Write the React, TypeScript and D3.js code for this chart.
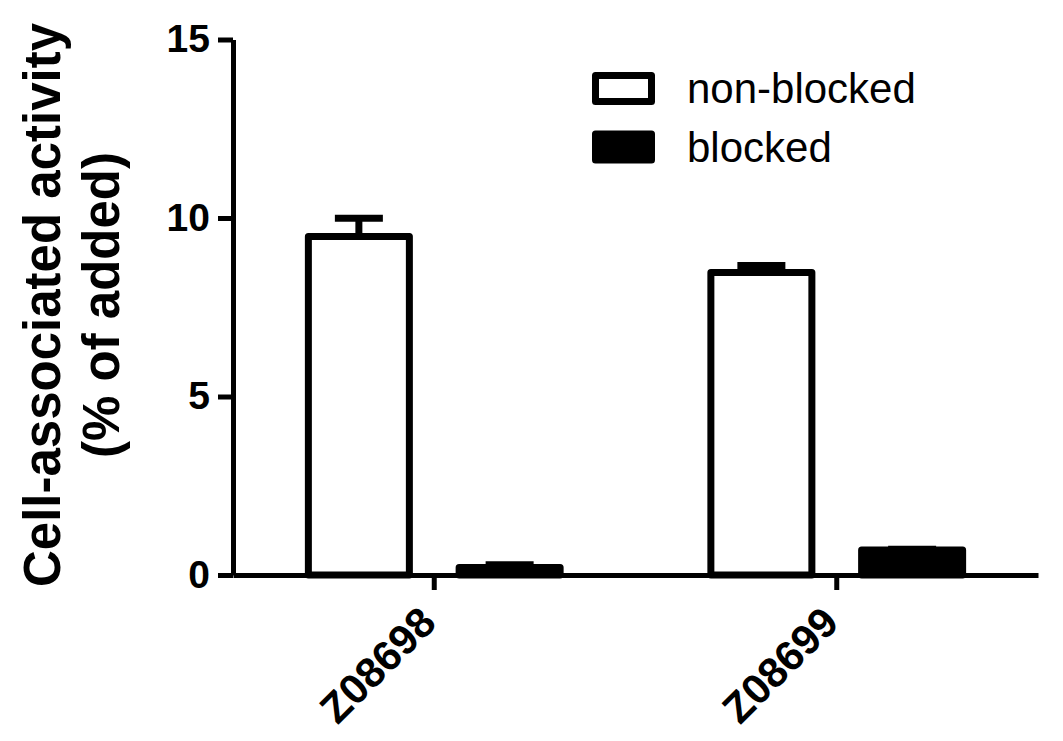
import React, { useEffect, useRef } from 'react';
import * as d3 from 'd3';

const groups = ['Z08698', 'Z08699'];
const seriesNames = ['non-blocked', 'blocked'];
const nonBlockedMean = [9.48, 8.47];
const nonBlockedErr = [0.51, 0.2];
const blockedMean = [0.21, 0.7];
const blockedErr = [0.08, 0.02];
const yTicks = [0, 5, 10, 15];

const W = 1063;
const H = 741;

const App = () => {
  const ref = useRef<SVGSVGElement | null>(null);

  useEffect(() => {
    const svg = d3.select(ref.current);
    svg.selectAll('*').remove();

    const left = 233;
    const right = 1038;
    const bottom = 575;
    const top = 39.5;

    const y = d3.scaleLinear().domain([0, 15]).range([bottom, top]);
    const x0 = d3.scaleBand().domain(groups).range([left, right]).padding(0);
    const x1 = d3.scaleBand().domain(seriesNames)
      .range([0, x0.bandwidth()])
      .paddingInner(0.33)
      .paddingOuter(0.5);

    const rows = groups.map((g, i) => ({
      group: g,
      values: [
        { key: 'non-blocked', mean: nonBlockedMean[i], err: nonBlockedErr[i] },
        { key: 'blocked', mean: blockedMean[i], err: blockedErr[i] },
      ],
    }));

    const font = '"Liberation Sans", Arial, sans-serif';

    // bars + error bars
    const g = svg.selectAll('.grp')
      .data(rows)
      .enter()
      .append('g')
      .attr('class', 'grp')
      .attr('transform', d => `translate(${x0(d.group)},0)`);

    const item = g.selectAll('.item')
      .data(d => d.values)
      .enter()
      .append('g')
      .attr('class', 'item');

    item.append('line')
      .attr('x1', d => x1(d.key)! + x1.bandwidth() / 2)
      .attr('x2', d => x1(d.key)! + x1.bandwidth() / 2)
      .attr('y1', d => y(d.mean))
      .attr('y2', d => y(d.mean + d.err))
      .attr('stroke', '#000')
      .attr('stroke-width', 7);

    item.append('line')
      .attr('x1', d => x1(d.key)! + x1.bandwidth() / 2 - 24)
      .attr('x2', d => x1(d.key)! + x1.bandwidth() / 2 + 24)
      .attr('y1', d => y(d.mean + d.err))
      .attr('y2', d => y(d.mean + d.err))
      .attr('stroke', '#000')
      .attr('stroke-width', 7);

    item.append('rect')
      .attr('x', d => x1(d.key)!)
      .attr('y', d => y(d.mean))
      .attr('width', x1.bandwidth())
      .attr('height', d => bottom - y(d.mean))
      .attr('fill', d => (d.key === 'blocked' ? '#000' : '#fff'))
      .attr('stroke', '#000')
      .attr('stroke-width', 7)
      .attr('stroke-linejoin', 'round');

    // y axis
    const yAxis = svg.append('g')
      .attr('transform', `translate(${left},0)`)
      .call(d3.axisLeft(y).tickValues(yTicks).tickSize(15).tickPadding(8).tickSizeOuter(0));
    yAxis.select('.domain').attr('stroke-width', 5).attr('stroke', '#000');
    yAxis.selectAll('.tick line').attr('stroke-width', 5).attr('stroke', '#000');
    yAxis.selectAll('.tick text')
      .attr('font-family', font)
      .attr('font-weight', 'bold')
      .attr('font-size', 39)
      .attr('fill', '#000');

    // x axis
    const xAxis = svg.append('g')
      .attr('transform', `translate(0,${bottom})`)
      .call(d3.axisBottom(x0).tickSize(15).tickSizeOuter(0));
    xAxis.select('.domain').attr('stroke-width', 5).attr('stroke', '#000');
    xAxis.selectAll('.tick line').attr('stroke-width', 5).attr('stroke', '#000');
    xAxis.selectAll('.tick text')
      .attr('font-family', font)
      .attr('font-weight', 'bold')
      .attr('font-size', 42)
      .attr('fill', '#000')
      .attr('y', 0)
      .attr('dy', 0)
      .attr('text-anchor', 'end')
      .attr('transform', 'translate(4,50) rotate(-45)');

    // y title
    const title = svg.append('text')
      .attr('transform', `translate(0,305) rotate(-90)`)
      .attr('text-anchor', 'middle')
      .attr('font-family', font)
      .attr('font-weight', 'bold')
      .attr('font-size', 51)
      .attr('fill', '#000');
    title.append('tspan').attr('x', 0).attr('y', 60).text('Cell-associated activity');
    title.append('tspan').attr('x', 0).attr('y', 119).text('(% of added)');

    // legend
    const legend = svg.selectAll('.legend')
      .data(seriesNames)
      .enter()
      .append('g')
      .attr('class', 'legend')
      .attr('transform', (d, i) => `translate(595.5,${75.5 + i * 58.5})`);
    legend.append('rect')
      .attr('width', 56)
      .attr('height', 26)
      .attr('fill', d => (d === 'blocked' ? '#000' : '#fff'))
      .attr('stroke', '#000')
      .attr('stroke-width', 7)
      .attr('stroke-linejoin', 'round');
    legend.append('text')
      .attr('x', 91.5)
      .attr('y', 27.5)
      .attr('font-family', font)
      .attr('font-size', 42)
      .attr('fill', '#000')
      .text(d => d);
  }, []);

  return (
    <svg
      ref={ref}
      width={W}
      height={H}
      style={{ position: 'absolute', left: 0, top: 0, background: '#fff' }}
    />
  );
};

export default App;
